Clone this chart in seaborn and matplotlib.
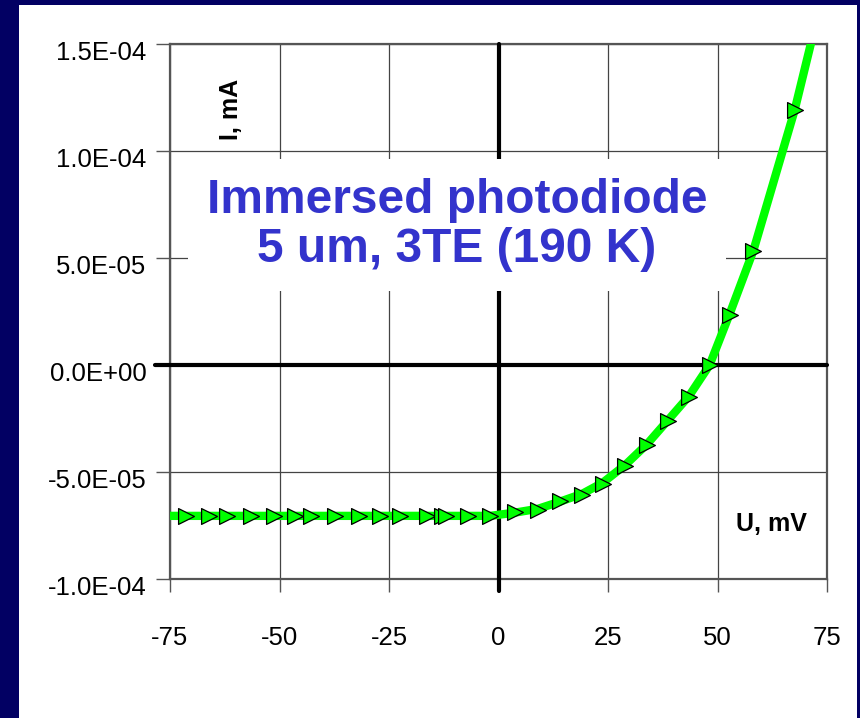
import matplotlib
matplotlib.use("Agg")
import matplotlib.pyplot as plt
import matplotlib.transforms as mtransforms
from matplotlib.patches import Rectangle
import seaborn as sns
import pandas as pd

# ---- data ----
marker_u = [-71.4, -66.0, -62.0, -56.5, -51.3, -46.4, -42.9, -37.3, -31.9, -27.1,
            -22.4, -16.3, -13.0, -11.9, -7.0, -1.9, 3.7, 9.0, 14.1, 19.1,
            23.8, 28.9, 33.9, 38.6, 43.5, 48.2, 52.8, 58.2, 67.6]
marker_i = [-7.05e-5, -7.05e-5, -7.05e-5, -7.05e-5, -7.05e-5, -7.05e-5, -7.05e-5, -7.05e-5,
            -7.05e-5, -7.05e-5, -7.05e-5, -7.05e-5, -7.05e-5, -7.05e-5, -7.05e-5, -7.05e-5,
            -6.87e-5, -6.76e-5, -6.36e-5, -6.07e-5, -5.54e-5, -4.72e-5, -3.74e-5, -2.62e-5,
            -1.50e-5, 0.0, 2.34e-5, 5.33e-5, 1.19e-4]

line_u = [-75.0, -50.0, -25.0, -1.9, 3.7, 9.0, 14.1, 19.1, 23.8, 28.9, 33.9, 38.6,
          43.5, 48.2, 52.8, 58.2, 67.6, 71.3, 72.5]
line_i = [-7.05e-5, -7.05e-5, -7.05e-5, -7.05e-5, -6.9e-5, -6.72e-5, -6.38e-5, -6.02e-5,
          -5.5e-5, -4.68e-5, -3.7e-5, -2.6e-5, -1.45e-5, 0.0, 2.4e-5, 5.35e-5,
          1.19e-4, 1.5e-4, 1.6e-4]

x_ticks = [-75, -50, -25, 0, 25, 50, 75]
y_ticks = [-1.0e-4, -5.0e-5, 0.0, 5.0e-5, 1.0e-4, 1.5e-4]
y_tick_labels = ["-1.0E-04", "-5.0E-05", "0.0E+00", "5.0E-05", "1.0E-04", "1.5E-04"]

title_text = "Immersed photodiode\n5 um, 3TE (190 K)"
ylabel_text = "I, mA"
xlabel_text = "U, mV"

# ---- style ----
sns.set_style("white")
plt.rcParams["font.family"] = ["Liberation Sans", "DejaVu Sans"]

NAVY = "#020063"
GREEN = "#00ff00"
GRID = "#444444"

fig = plt.figure(figsize=(8.6, 7.18), dpi=100, facecolor=NAVY)
bg = Rectangle((19 / 860, 0), (857 - 19) / 860, (718 - 5) / 718,
               transform=fig.transFigure, facecolor="white",
               edgecolor="none", zorder=-10)
fig.patches.append(bg)

ax = fig.add_axes([170 / 860, 1 - 579 / 718, (827 - 170) / 860, (579 - 44) / 718])
ax.set_zorder(5)
ax.set_facecolor("white")

line_df = pd.DataFrame({"U": line_u, "I": line_i})
mark_df = pd.DataFrame({"U": marker_u, "I": marker_i})

sns.lineplot(data=line_df, x="U", y="I", sort=False, color=GREEN, lw=6,
             ax=ax, zorder=4, solid_capstyle="butt")
sns.scatterplot(data=mark_df, x="U", y="I", marker=">", s=130, color=GREEN,
                edgecolor="black", linewidth=0.9, ax=ax, zorder=5)

ax.set_xlim(-75, 75)
ax.set_ylim(-1.0e-4, 1.5e-4)
ax.set_xticks(x_ticks)
ax.set_xticklabels([str(t) for t in x_ticks])
ax.set_yticks(y_ticks)
ax.set_yticklabels(y_tick_labels)

ax.grid(True, color=GRID, lw=0.9, zorder=1)
ax.set_axisbelow(True)
for sp in ax.spines.values():
    sp.set_color("#555555")
    sp.set_linewidth(1.6)

ax.axhline(0, color="black", lw=3, xmin=-0.023, xmax=1, clip_on=False, zorder=3)
ax.axvline(0, color="black", lw=3, ymin=-0.022, ymax=1, clip_on=False, zorder=3)

ax.tick_params(axis="y", direction="out", length=10, width=1, color="#555555",
               pad=7, labelsize=18.5, labelcolor="black", left=True)
ax.tick_params(axis="x", direction="out", length=9, width=1, color="#555555",
               pad=25, labelsize=18.5, labelcolor="black", bottom=True)
offset = mtransforms.ScaledTranslation(0, -5 / 72, fig.dpi_scale_trans)
for lab in ax.get_yticklabels():
    lab.set_transform(lab.get_transform() + offset)

ax.set_xlabel("")
ax.set_ylabel("")

ax.text(0.4368, 0.662, title_text, transform=ax.transAxes, ha="center", va="center",
        fontsize=34.5, fontweight="bold", color="#3333cc", linespacing=1.12, zorder=6,
        bbox=dict(boxstyle="square,pad=0.4", facecolor="white", edgecolor="none"))
ax.text(0.0924, 0.877, ylabel_text, transform=ax.transAxes, ha="center", va="center",
        rotation=90, fontsize=18, fontweight="bold", color="black", zorder=6)
ax.text(0.915, 0.102, xlabel_text, transform=ax.transAxes, ha="center", va="center",
        fontsize=18, fontweight="bold", color="black", zorder=6)

fig.savefig("out.png", dpi=100, facecolor=NAVY)
